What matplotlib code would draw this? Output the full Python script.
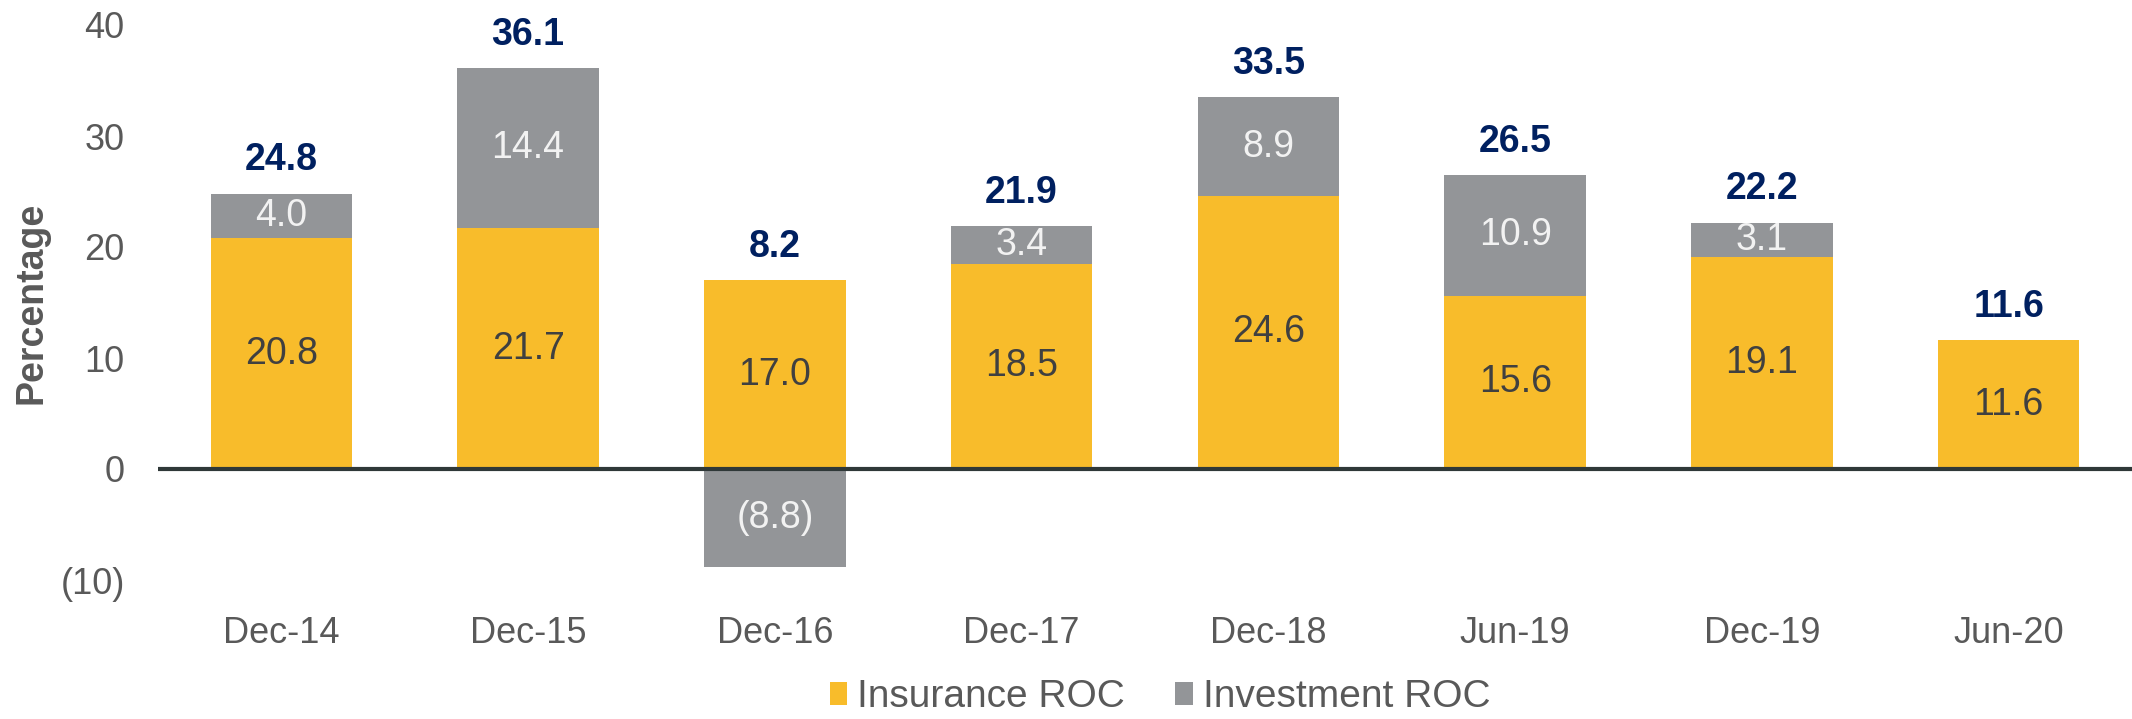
import matplotlib
matplotlib.use("Agg")
import matplotlib.pyplot as plt
from matplotlib.ticker import FuncFormatter

plt.rcParams['font.family'] = ['Liberation Sans', 'DejaVu Sans']

periods = ['Dec-14', 'Dec-15', 'Dec-16', 'Dec-17', 'Dec-18', 'Jun-19', 'Dec-19', 'Jun-20']
insurance = [20.8, 21.7, 17.0, 18.5, 24.6, 15.6, 19.1, 11.6]
investment = [4.0, 14.4, -8.8, 3.4, 8.9, 10.9, 3.1, 0.0]
totals = [24.8, 36.1, 8.2, 21.9, 33.5, 26.5, 22.2, 11.6]

yellow = '#F8BC2B'
grey = '#939598'
navy = '#002060'
txt = '#595959'

fig = plt.figure(figsize=(21.32, 7.19), dpi=100)
ax = fig.add_axes([158 / 2132, 1 - 580 / 719, 1 - 158 / 2132, 555 / 719])

x = list(range(len(periods)))
w = 0.573
inv_bottom = [ins if inv >= 0 else 0 for ins, inv in zip(insurance, investment)]

ax.bar(x, insurance, width=w, color=yellow, label='Insurance ROC', zorder=2)
ax.bar(x, investment, width=w, bottom=inv_bottom, color=grey, label='Investment ROC', zorder=2)

def fmt(v):
    return '(%.1f)' % abs(v) if v < 0 else '%.1f' % v

for i in x:
    ax.text(i, insurance[i] / 2, fmt(insurance[i]), ha='center', va='center',
            fontsize=27, color='#404040', zorder=3)
    if investment[i] != 0:
        ax.text(i, inv_bottom[i] + investment[i] / 2, fmt(investment[i]), ha='center',
                va='center', fontsize=27, color='#F2F2F2', zorder=3)
    top = max(insurance[i], insurance[i] + investment[i])
    ax.annotate('%.1f' % totals[i], (i, top), xytext=(0, 24), textcoords='offset points',
                ha='center', va='center', fontsize=27, fontweight='bold', color=navy)

ax.axhline(0, color='#2F3838', lw=3, zorder=4)
ax.set_xlim(-0.5, 7.5)
ax.set_ylim(-10, 40)
ax.set_yticks([-10, 0, 10, 20, 30, 40])
ax.yaxis.set_major_formatter(FuncFormatter(lambda v, p: '(%d)' % abs(v) if v < 0 else '%d' % v))
ax.set_xticks(x)
ax.set_xticklabels(periods)
ax.tick_params(axis='both', length=0, labelsize=26, labelcolor=txt)
ax.tick_params(axis='x', pad=26)
ax.tick_params(axis='y', pad=24)
for s in ax.spines.values():
    s.set_visible(False)
ax.set_ylabel('Percentage', fontsize=27, fontweight='bold', color=txt, labelpad=8)

fig.legend(loc='center', bbox_to_anchor=(1160 / 2132, 1 - 697 / 719), ncol=2, frameon=False,
           prop={'size': 28}, labelcolor=txt, handlelength=0.45, handleheight=0.55,
           handletextpad=0.25, columnspacing=1.3, borderpad=0)

fig.savefig('out.png', dpi=100)
